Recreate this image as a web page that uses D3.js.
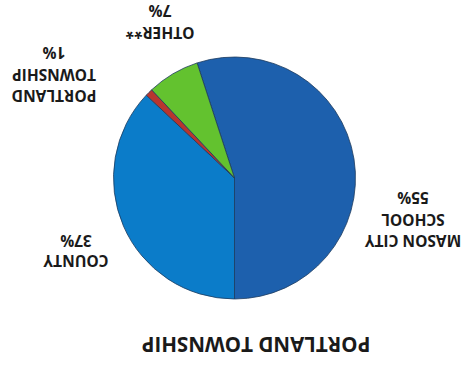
<!DOCTYPE html>
<html>
<head>
<meta charset="utf-8">
<script src="https://cdn.jsdelivr.net/npm/d3@7"></script>
<style>
  html, body { margin: 0; padding: 0; background: #fff; }
  svg { display: block; }
  text { font-family: "Open Sans", "Liberation Sans", sans-serif; font-weight: 700; fill: #1a1a1a; }
</style>
</head>
<body>
<svg id="chart" width="462" height="366"></svg>
<script>
// Revenue shares by source
const categories = ["MASON CITY SCHOOL", "COUNTY", "PORTLAND TOWNSHIP", "OTHER**"];
const shares = [55, 37, 1, 7];
const labelLines = [["MASON CITY", "SCHOOL", "55%"], ["COUNTY", "37%"], ["PORTLAND", "TOWNSHIP", "1%"], ["OTHER**", "7%"]];
const title = "PORTLAND TOWNSHIP";

const colors = d3.scaleOrdinal()
  .domain(categories)
  .range(["#1d60ad", "#0b7cc9", "#b8352f", "#63c22f"]);

const W = 462, H = 366;
const cx = 227.5, cy = 188, radius = 121;

const svg = d3.select("#chart");
// the printed page is turned upside down
const g = svg.append("g").attr("transform", `rotate(180 ${W / 2} ${H / 2})`);

const deg = Math.PI / 180;
const pie = d3.pie().sort(null).value(d => d)
  .startAngle(162 * deg).endAngle(522 * deg);
const arc = d3.arc().innerRadius(0).outerRadius(radius);

const slices = pie(shares);
g.append("g").attr("transform", `translate(${cx},${cy})`)
  .selectAll("path").data(slices).join("path")
  .attr("d", arc)
  .attr("fill", (d, i) => colors(categories[i]))
  .attr("stroke", "#1d3b5e")
  .attr("stroke-width", 0.8)
  .attr("stroke-linejoin", "round");

// label anchors: centre x and first baseline of each block
const labelPos = [[49, 131], [386, 111], [408, 276], [302, 339]];
const lineGap = [21.5, 20, 21.5, 22];
labelLines.forEach((lines, i) => {
  const t = g.append("text")
    .attr("text-anchor", "middle")
    .attr("font-size", 15.5);
  lines.forEach((s, j) => {
    t.append("tspan")
      .attr("x", labelPos[i][0])
      .attr("y", labelPos[i][1] + j * lineGap[i])
      .text(s);
  });
});

g.append("text")
  .attr("x", 206).attr("y", 29)
  .attr("text-anchor", "middle")
  .attr("font-size", 20.5)
  .text(title);
</script>
</body>
</html>
